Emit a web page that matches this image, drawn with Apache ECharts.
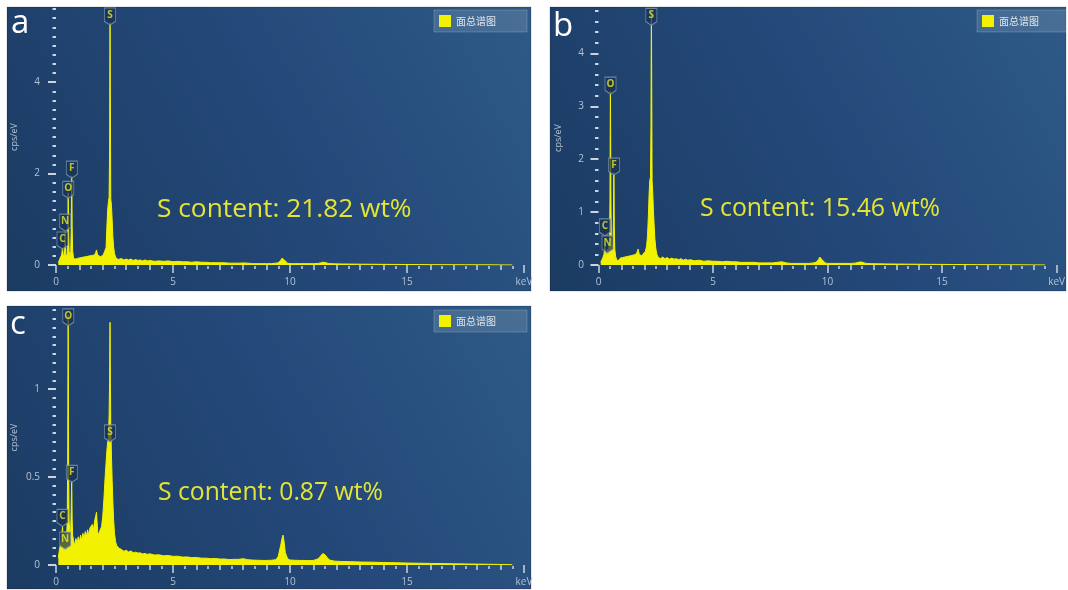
<!DOCTYPE html>
<html>
<head>
<meta charset="utf-8">
<script src="https://cdn.jsdelivr.net/npm/echarts@6/dist/echarts.min.js"></script>
<style>
  html, body { margin: 0; padding: 0; background: #ffffff; }
  #chart { width: 1068px; height: 590px; }
</style>
</head>
<body>
<div id="chart"></div>
<script>
// EDS sum spectra, [energy keV, counts cps/eV]
const spectrumA = [
  [0.10,0.05],[0.15,0.12],[0.20,0.16],[0.24,0.22],[0.26,0.30],[0.28,0.38],[0.30,0.26],[0.33,0.17],[0.36,0.22],[0.38,0.45],
  [0.39,0.72],[0.40,0.48],[0.42,0.24],[0.45,0.18],[0.48,0.25],[0.50,0.55],[0.51,1.05],[0.52,1.58],[0.53,1.30],[0.54,0.70],
  [0.56,0.30],[0.60,0.18],[0.63,0.30],[0.65,0.75],[0.66,1.40],[0.67,1.95],[0.68,1.60],[0.69,0.85],[0.71,0.32],[0.75,0.14],
  [0.80,0.10],[0.85,0.13],[0.90,0.10],[0.95,0.15],[1.00,0.12],[1.05,0.16],[1.10,0.13],[1.15,0.17],[1.20,0.14],[1.25,0.18],
  [1.30,0.15],[1.35,0.19],[1.40,0.16],[1.45,0.20],[1.50,0.17],[1.55,0.21],[1.60,0.19],[1.65,0.22],[1.70,0.28],[1.73,0.33],
  [1.75,0.30],[1.78,0.22],[1.82,0.18],[1.86,0.21],[1.90,0.18],[1.95,0.22],[2.00,0.21],[2.05,0.26],[2.10,0.30],
  [2.14,0.38],[2.18,0.90],[2.21,1.22],[2.24,1.38],[2.27,1.48],[2.29,2.50],[2.30,4.20],[2.31,5.30],[2.32,4.00],[2.34,1.45],
  [2.37,1.30],[2.40,0.98],[2.43,0.62],[2.46,0.40],[2.50,0.25],[2.55,0.17],[2.60,0.14],[2.65,0.12],[2.70,0.11],
  [2.80,0.14],[2.90,0.11],[3.00,0.13],[3.10,0.11],[3.20,0.13],[3.30,0.10],[3.40,0.12],[3.50,0.10],[3.60,0.11],[3.70,0.09],
  [3.80,0.11],[3.90,0.09],[4.00,0.10],[4.20,0.08],[4.40,0.09],[4.60,0.08],[4.80,0.09],[5.00,0.07],[5.20,0.08],[5.40,0.07],
  [5.60,0.07],[5.80,0.06],[6.00,0.07],[6.20,0.06],[6.40,0.06],[6.60,0.05],[6.80,0.05],[7.00,0.05],[7.20,0.05],[7.40,0.04],
  [7.60,0.04],[7.80,0.04],[8.00,0.045],[8.20,0.04],[8.40,0.03],[8.60,0.03],[8.80,0.03],[9.00,0.03],[9.20,0.03],[9.40,0.04],
  [9.50,0.05],[9.60,0.10],[9.66,0.15],[9.70,0.17],[9.74,0.15],[9.80,0.09],[9.90,0.04],[10.00,0.03],[10.20,0.03],[10.40,0.03],
  [10.60,0.03],[10.80,0.03],[11.00,0.03],[11.20,0.035],[11.30,0.045],[11.40,0.06],[11.45,0.06],[11.50,0.055],[11.60,0.04],[11.70,0.03],
  [11.90,0.025],[12.20,0.022],[12.60,0.02],[13.00,0.018],[13.50,0.016],[14.00,0.014],[14.50,0.012],[15.00,0.011],[15.50,0.009],[16.00,0.008],
  [16.50,0.007],[17.00,0.006],[17.50,0.005],[18.00,0.004],[18.50,0.003],[19.00,0.002],[19.50,0.001]
];
const spectrumB = [
  [0.10,0.05],[0.15,0.10],[0.20,0.15],[0.24,0.20],[0.26,0.28],[0.28,0.36],[0.30,0.25],[0.33,0.16],[0.36,0.18],[0.38,0.25],
  [0.39,0.30],[0.40,0.24],[0.42,0.18],[0.45,0.20],[0.48,0.45],[0.50,1.20],[0.51,2.40],[0.52,3.28],[0.53,2.60],[0.54,1.40],
  [0.56,0.55],[0.60,0.28],[0.63,0.35],[0.65,0.80],[0.66,1.30],[0.67,1.75],[0.68,1.45],[0.69,0.75],[0.71,0.30],[0.75,0.16],
  [0.80,0.09],[0.85,0.12],[0.90,0.09],[0.95,0.13],[1.00,0.11],[1.05,0.14],[1.10,0.12],[1.15,0.15],[1.20,0.13],[1.25,0.16],
  [1.30,0.14],[1.35,0.17],[1.40,0.15],[1.45,0.18],[1.50,0.16],[1.55,0.19],[1.60,0.18],[1.65,0.21],[1.70,0.26],[1.73,0.30],
  [1.75,0.27],[1.78,0.20],[1.82,0.17],[1.86,0.20],[1.90,0.17],[1.95,0.21],[2.00,0.20],[2.05,0.26],[2.10,0.36],
  [2.14,0.55],[2.18,0.95],[2.21,1.35],[2.24,1.60],[2.27,1.66],[2.29,2.60],[2.30,4.00],[2.31,4.80],[2.32,3.80],[2.34,1.60],
  [2.37,1.35],[2.40,1.00],[2.43,0.75],[2.46,0.50],[2.50,0.32],[2.55,0.20],[2.60,0.15],[2.65,0.13],[2.70,0.12],
  [2.80,0.15],[2.90,0.12],[3.00,0.14],[3.10,0.11],[3.20,0.13],[3.30,0.11],[3.40,0.12],[3.50,0.10],[3.60,0.12],[3.70,0.09],
  [3.80,0.11],[3.90,0.09],[4.00,0.10],[4.20,0.08],[4.40,0.09],[4.60,0.07],[4.80,0.08],[5.00,0.07],[5.20,0.07],[5.40,0.06],
  [5.60,0.07],[5.80,0.06],[6.00,0.06],[6.20,0.05],[6.40,0.05],[6.60,0.05],[6.80,0.05],[7.00,0.04],[7.20,0.04],[7.40,0.04],
  [7.60,0.04],[7.80,0.05],[8.00,0.06],[8.20,0.04],[8.40,0.03],[8.60,0.03],[8.80,0.03],[9.00,0.03],[9.20,0.03],[9.40,0.04],
  [9.50,0.05],[9.60,0.10],[9.66,0.15],[9.70,0.17],[9.74,0.15],[9.80,0.08],[9.90,0.04],[10.00,0.03],[10.20,0.03],[10.40,0.03],
  [10.60,0.03],[10.80,0.03],[11.00,0.03],[11.20,0.035],[11.30,0.045],[11.40,0.055],[11.45,0.06],[11.50,0.055],[11.60,0.04],[11.70,0.03],
  [11.90,0.025],[12.20,0.022],[12.60,0.02],[13.00,0.018],[13.50,0.016],[14.00,0.014],[14.50,0.012],[15.00,0.011],[15.50,0.009],[16.00,0.008],
  [16.50,0.007],[17.00,0.006],[17.50,0.005],[18.00,0.004],[18.50,0.003],[19.00,0.002],[19.50,0.001]
];
const spectrumC = [
  [0.10,0.04],[0.15,0.09],[0.20,0.12],[0.24,0.15],[0.26,0.19],[0.28,0.22],[0.30,0.17],[0.33,0.13],[0.36,0.14],[0.38,0.17],
  [0.39,0.19],[0.40,0.16],[0.42,0.13],[0.45,0.15],[0.48,0.25],[0.50,0.60],[0.51,1.10],[0.52,1.42],[0.53,1.15],[0.54,0.55],
  [0.56,0.25],[0.60,0.17],[0.63,0.20],[0.65,0.32],[0.66,0.42],[0.67,0.48],[0.68,0.40],[0.69,0.26],[0.71,0.17],[0.75,0.14],
  [0.80,0.11],[0.85,0.15],[0.90,0.12],[0.95,0.16],[1.00,0.13],[1.05,0.17],[1.10,0.14],[1.15,0.18],[1.20,0.15],[1.25,0.19],
  [1.30,0.16],[1.35,0.20],[1.40,0.17],[1.45,0.21],[1.50,0.20],[1.55,0.23],[1.60,0.20],[1.65,0.25],[1.70,0.28],[1.73,0.30],
  [1.75,0.26],[1.78,0.19],[1.82,0.17],[1.86,0.19],[1.90,0.18],[1.95,0.22],[2.00,0.28],[2.05,0.38],[2.10,0.50],
  [2.14,0.58],[2.18,0.66],[2.21,0.70],[2.24,0.72],[2.27,0.85],[2.29,1.05],[2.30,1.25],[2.31,1.38],[2.32,1.15],[2.34,0.80],
  [2.37,0.62],[2.40,0.48],[2.43,0.36],[2.46,0.26],[2.50,0.18],[2.55,0.13],[2.60,0.11],[2.65,0.10],[2.70,0.095],
  [2.80,0.088],[2.90,0.078],[3.00,0.084],[3.10,0.074],[3.20,0.080],[3.30,0.070],[3.40,0.073],[3.50,0.068],[3.60,0.069],[3.70,0.063],
  [3.80,0.066],[3.90,0.060],[4.00,0.064],[4.20,0.057],[4.40,0.058],[4.60,0.052],[4.80,0.054],[5.00,0.049],[5.20,0.050],[5.40,0.045],
  [5.60,0.046],[5.80,0.042],[6.00,0.043],[6.20,0.039],[6.40,0.039],[6.60,0.036],[6.80,0.037],[7.00,0.034],[7.20,0.034],[7.40,0.031],
  [7.60,0.032],[7.80,0.032],[8.00,0.036],[8.20,0.030],[8.40,0.028],[8.60,0.027],[8.80,0.026],[9.00,0.026],[9.20,0.027],[9.40,0.030],
  [9.50,0.05],[9.60,0.11],[9.66,0.15],[9.70,0.17],[9.74,0.14],[9.80,0.07],[9.90,0.035],[10.00,0.028],[10.20,0.027],[10.40,0.026],
  [10.60,0.026],[10.80,0.025],[11.00,0.026],[11.20,0.035],[11.30,0.05],[11.40,0.065],[11.45,0.066],[11.50,0.058],[11.60,0.04],[11.70,0.028],
  [11.90,0.022],[12.20,0.020],[12.60,0.019],[13.00,0.017],[13.50,0.016],[14.00,0.014],[14.50,0.013],[15.00,0.011],[15.50,0.010],[16.00,0.009],
  [16.50,0.008],[17.00,0.007],[17.50,0.006],[18.00,0.005],[18.50,0.004],[19.00,0.003],[19.50,0.002]
];

// Element markers: [symbol, line energy keV, marker height cps/eV]
const peaksA = [['C',0.277,0.35],['N',0.392,0.74],['O',0.525,1.46],['F',0.677,1.90],['S',2.307,5.25]];
const peaksB = [['C',0.277,0.55],['N',0.392,0.23],['O',0.525,3.23],['F',0.677,1.70],['S',2.307,4.53]];
const peaksC = [['O',0.525,1.36],['S',2.307,0.70],['F',0.677,0.47],['C',0.277,0.22],['N',0.392,0.09]];

const sulfurContent = ['21.82', '15.46', '0.87'];
const panelLetters = ['a', 'b', 'c'];
const seriesName = '面总谱图';
const yAxisName = 'cps/eV';
const xUnit = 'keV';

// Tick values
const xMajor = [0, 5, 10, 15, 20];
const yMajorA = [0, 2, 4];
const yMajorB = [0, 1, 2, 3, 4];
const yMajorC = [0, 0.5, 1];

function steps(max, step) {
  const out = [];
  for (let i = 0; i * step <= max + 1e-9; i++) out.push(+(i * step).toFixed(3));
  return out;
}
const xInteger = steps(20, 1);
const xHalf = steps(20, 0.5);

const panels = [
  { spectrum: spectrumA, peaks: peaksA, yMax: 5.6, yMajor: yMajorA, yMinor: steps(5.6, 0.2),
    frame: [7, 7, 524, 284], grid: { left: 56, top: 9, width: 468, height: 256 }, yOffset: 6,
    letterPos: [11, 7], textPos: [157, 210], textSize: 26.3, legendPos: [434, 10] },
  { spectrum: spectrumB, peaks: peaksB, yMax: 4.8, yMajor: yMajorB, yMinor: steps(4.8, 0.2),
    frame: [550, 7, 516, 284], grid: { left: 598.5, top: 11, width: 463, height: 254 }, yOffset: 4.5,
    letterPos: [553, 10], textPos: [700, 209], textSize: 24.8, legendPos: [977, 10] },
  { spectrum: spectrumC, peaks: peaksC, yMax: 1.45, yMajor: yMajorC, yMinor: steps(1.45, 0.05),
    frame: [7, 306, 524, 283], grid: { left: 56, top: 310, width: 468, height: 255 }, yOffset: 6,
    letterPos: [10, 308], textPos: [158, 493], textSize: 24.7, legendPos: [434, 310] }
];

const tickColor = '#c9d4e0';
const labelColor = '#b4c2d2';
const specColor = '#f2f200';
const textYellow = '#e4e436';
const tagPath = 'path://M0,0L12,0L12,14L6,18L0,14Z';

const grids = [], xAxes = [], yAxes = [], series = [], legends = [], graphics = [];

panels.forEach((p, i) => {
  const [fx, fy, fw, fh] = p.frame;
  graphics.push({
    type: 'rect', z: -10, silent: true,
    shape: { x: fx, y: fy, width: fw, height: fh },
    style: {
      fill: new echarts.graphic.LinearGradient(0, 1, 1, 0, [
        { offset: 0, color: '#1b3b62' },
        { offset: 0.55, color: '#24497a' },
        { offset: 1, color: '#2e5a87' }
      ]),
      stroke: 'rgba(0,0,0,0.18)', lineWidth: 1
    }
  });
  graphics.push({
    type: 'text', z: 50, silent: true,
    style: { x: p.letterPos[0], y: p.letterPos[1], text: panelLetters[i], fill: '#ffffff',
      font: '33px "Open Sans", sans-serif', verticalAlign: 'top' }
  });
  graphics.push({
    type: 'text', z: 50, silent: true,
    style: { x: p.textPos[0], y: p.textPos[1], text: 'S content: ' + sulfurContent[i] + ' wt%',
      fill: textYellow, font: p.textSize + 'px "Open Sans", sans-serif', verticalAlign: 'middle' }
  });

  grids.push(Object.assign({ containLabel: false }, p.grid));

  const baseX = {
    gridIndex: i, type: 'value', min: 0, max: 20, position: 'bottom', offset: 1,
    axisLine: { show: false }, splitLine: { show: false }
  };
  xAxes.push(Object.assign({}, baseX, {
    axisTick: { customValues: xMajor, length: 8, lineStyle: { color: tickColor, width: 1.5 } },
    axisLabel: { customValues: xMajor, formatter: v => (v === 20 ? xUnit : String(v)),
      color: labelColor, fontSize: 10, margin: 11, fontFamily: 'Open Sans' }
  }));
  xAxes.push(Object.assign({}, baseX, {
    axisTick: { customValues: xInteger, length: 5, lineStyle: { color: tickColor, width: 1.5 } },
    axisLabel: { show: false }
  }));
  xAxes.push(Object.assign({}, baseX, {
    axisTick: { customValues: xHalf, length: 3, lineStyle: { color: tickColor, width: 1.5 } },
    axisLabel: { show: false }
  }));

  const baseY = {
    gridIndex: i, type: 'value', min: 0, max: p.yMax, position: 'left', offset: p.yOffset,
    axisLine: { show: false }, splitLine: { show: false }
  };
  yAxes.push(Object.assign({}, baseY, {
    name: yAxisName, nameLocation: 'middle', nameGap: 31, nameRotate: 90,
    nameTextStyle: { color: labelColor, fontSize: 9, fontFamily: 'Open Sans' },
    axisTick: { customValues: p.yMajor, length: 8, lineStyle: { color: tickColor, width: 2 } },
    axisLabel: { customValues: p.yMajor, color: labelColor, fontSize: 10, margin: 10, fontFamily: 'Open Sans' }
  }));
  yAxes.push(Object.assign({}, baseY, {
    axisTick: { customValues: p.yMinor, length: 3.5, lineStyle: { color: tickColor, width: 2 } },
    axisLabel: { show: false }
  }));

  series.push({
    type: 'line', name: seriesName, xAxisIndex: 3 * i, yAxisIndex: 2 * i,
    data: p.spectrum, showSymbol: false, symbol: 'none', sampling: null, silent: true,
    itemStyle: { color: specColor },
    lineStyle: { color: specColor, width: 1 },
    areaStyle: { color: specColor, opacity: 1 },
    z: 3
  });
  series.push({
    type: 'scatter', name: 'elements', xAxisIndex: 3 * i, yAxisIndex: 2 * i,
    data: p.peaks.map(d => [d[1], d[2], d[0]]),
    symbol: tagPath, symbolSize: [11, 17], symbolOffset: [0, -8.5], silent: true,
    itemStyle: { color: 'rgba(24,48,80,0.88)', borderColor: '#7e99b4', borderWidth: 1 },
    label: { show: true, position: 'inside', formatter: d => d.value[2], offset: [0, -1.5],
      color: '#e6e62c', fontSize: 10, fontWeight: 'bold', fontFamily: 'Open Sans' },
    z: 6
  });

  legends.push({
    data: [seriesName], left: p.legendPos[0], top: p.legendPos[1], orient: 'horizontal',
    icon: 'rect', itemWidth: 12, itemHeight: 12, itemGap: 0,
    padding: [5, 31, 5, 5],
    backgroundColor: 'rgba(255,255,255,0.13)', borderColor: 'rgba(255,255,255,0.18)', borderWidth: 1,
    textStyle: { color: '#dfe5ec', fontSize: 10, fontFamily: 'Noto Sans CJK SC' },
    selectedMode: false
  });
});

const chart = echarts.init(document.getElementById('chart'), null, { renderer: 'canvas' });
chart.setOption({
  animation: false,
  backgroundColor: '#ffffff',
  grid: grids,
  xAxis: xAxes,
  yAxis: yAxes,
  legend: legends,
  series: series,
  graphic: graphics
});
</script>
</body>
</html>
